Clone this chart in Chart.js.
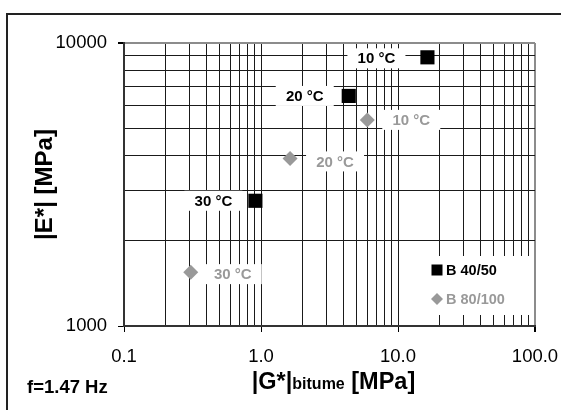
<!DOCTYPE html>
<html>
<head>
<meta charset="utf-8">
<script src="https://cdn.jsdelivr.net/npm/chart.js@4.4.1/dist/chart.umd.min.js"></script>
<style>
  html, body { margin: 0; padding: 0; background: #fff; }
  canvas { display: block; }
</style>
</head>
<body>
<canvas id="modulus-chart" width="561" height="410"></canvas>
<script>
// |E*| mix vs |G*| binder, f = 1.47 Hz
const seriesNames = ['B 40/50', 'B 80/100'];
const tempLabels = ['10 °C', '20 °C', '30 °C'];
const g4050 = [16.4, 4.37, 0.91];
const e4050 = [8900, 6500, 2770];
const g80100 = [5.97, 1.63, 0.307];
const e80100 = [5350, 3910, 1550];
const xTickValues = [0.1, 1, 10, 100];
const xTickLabels = ['0.1', '1.0', '10.0', '100.0'];
const yTickValues = [1000, 10000];
const yTickLabels = ['1000', '10000'];
const freqNote = 'f=1.47 Hz';

// label placement (px from the point), one row per series
const labelShift = [[-51, -44, -42], [44, 45, 42]];
const labelDrop = [[1, 0, 0], [0, 3, 2]];

const FONT = '"Liberation Sans", Arial, sans-serif';
const GREY = '#999999';

// 1,2,...,9 per decade for the grid
function logGrid(lo, hi) {
    const vals = [];
    const d0 = Math.round(Math.log10(lo));
    const d1 = Math.round(Math.log10(hi));
    for (let d = d0; d < d1; d++) {
        for (let k = 1; k < 10; k++) {
            vals.push(Number((k * Math.pow(10, d)).toPrecision(3)));
        }
    }
    vals.push(hi);
    return vals;
}

function toPoints(xs, ys) {
    return xs.map((x, i) => ({ x: x, y: ys[i] }));
}

const annotations = {
    id: 'annotations',
    beforeDraw(chart) {
        const ctx = chart.ctx;
        ctx.save();
        ctx.fillStyle = '#fff';
        ctx.fillRect(0, 0, chart.width, chart.height);
        // outer frame (only top and left visible)
        ctx.strokeStyle = '#222';
        ctx.lineWidth = 2;
        ctx.beginPath();
        ctx.moveTo(7, chart.height);
        ctx.lineTo(7, 14);
        ctx.lineTo(chart.width, 14);
        ctx.stroke();
        ctx.restore();
    },
    afterDatasetsDraw(chart) {
        const ctx = chart.ctx;
        const ca = chart.chartArea;
        ctx.save();
        ctx.font = 'bold 15px ' + FONT;
        ctx.textAlign = 'center';
        ctx.textBaseline = 'middle';
        chart.data.datasets.forEach((ds, si) => {
            const meta = chart.getDatasetMeta(si);
            meta.data.forEach((pt, i) => {
                const cx = pt.x + labelShift[si][i];
                const cy = pt.y + labelDrop[si][i];
                ctx.fillStyle = '#fff';
                ctx.fillRect(cx - 29, cy - 10, 58, 20);
                ctx.fillStyle = ds.labelColor;
                ctx.fillText(tempLabels[i], cx, cy + 1);
            });
        });

        // legend inside the plot
        const lx = ca.right - 123;
        const ly = ca.bottom - 70;
        ctx.fillStyle = '#fff';
        ctx.fillRect(lx, ly, 121, 59);
        ctx.font = 'bold 14.5px ' + FONT;
        ctx.textAlign = 'left';
        chart.data.datasets.forEach((ds, si) => {
            const mx = lx + 25;
            const my = ly + 14 + si * 29;
            ctx.fillStyle = ds.backgroundColor;
            if (ds.pointStyle === 'rect') {
                ctx.fillRect(mx - 5.5, my - 5.5, 11, 11);
            } else {
                ctx.beginPath();
                ctx.moveTo(mx, my - 6);
                ctx.lineTo(mx + 6, my);
                ctx.lineTo(mx, my + 6);
                ctx.lineTo(mx - 6, my);
                ctx.closePath();
                ctx.fill();
            }
            ctx.fillStyle = ds.labelColor;
            ctx.fillText(ds.label, mx + 9, my + 1);
        });
        ctx.restore();
    },
    afterDraw(chart) {
        const ctx = chart.ctx;
        const ca = chart.chartArea;
        ctx.save();
        ctx.fillStyle = '#000';
        ctx.textBaseline = 'alphabetic';
        ctx.textAlign = 'left';

        // x title with the small "bitume" part
        const parts = [
            { t: '|G*|', f: 'bold 23.5px ' + FONT },
            { t: 'bitume', f: 'bold 16px ' + FONT },
            { t: ' [MPa]', f: 'bold 23.5px ' + FONT }
        ];
        let total = 0;
        parts.forEach(p => { ctx.font = p.f; p.w = ctx.measureText(p.t).width; total += p.w; });
        let x = (ca.left + ca.right) / 2 + 4 - total / 2;
        parts.forEach(p => {
            ctx.font = p.f;
            ctx.fillText(p.t, x, 388.5);
            x += p.w;
        });

        ctx.font = 'bold 18.5px ' + FONT;
        ctx.fillText(freqNote, 27, 393);
        ctx.restore();
    }
};

const ctx = document.getElementById('modulus-chart').getContext('2d');
const chart = new Chart(ctx, {
    type: 'scatter',
    data: {
        datasets: [{
            label: seriesNames[0],
            data: toPoints(g4050, e4050),
            pointStyle: 'rect',
            pointRadius: 10,
            pointBorderWidth: 0,
            backgroundColor: '#000',
            borderColor: '#000',
            labelColor: '#000'
        }, {
            label: seriesNames[1],
            data: toPoints(g80100, e80100),
            pointStyle: 'rectRot',
            pointRadius: 7.5,
            pointBorderWidth: 0,
            backgroundColor: GREY,
            borderColor: GREY,
            labelColor: GREY
        }]
    },
    options: {
        responsive: false,
        animation: false,
        events: [],
        layout: { padding: { top: 43, right: 26, left: 0, bottom: 0 } },
        plugins: {
            legend: { display: false },
            tooltip: { enabled: false }
        },
        scales: {
            x: {
                type: 'logarithmic',
                min: 0.1,
                max: 100,
                afterBuildTicks: scale => {
                    scale.ticks = logGrid(0.1, 100).map(v => ({ value: v }));
                },
                afterFit: scale => {
                    scale.height = 84;
                    scale.paddingLeft = 0;
                    scale.paddingRight = 0;
                },
                ticks: {
                    autoSkip: false,
                    maxRotation: 0,
                    minRotation: 0,
                    padding: 14,
                    color: '#000',
                    font: { family: FONT, size: 18.5 },
                    callback: v => {
                        const i = xTickValues.indexOf(v);
                        return i >= 0 ? xTickLabels[i] : '';
                    }
                },
                grid: {
                    color: c => (c.tick && c.tick.value === 100 ? '#8c8c8c' : '#1a1a1a'),
                    lineWidth: c => (c.tick && c.tick.value === 100 ? 2 : 1),
                    tickColor: c => (c.tick && xTickValues.includes(c.tick.value) ? '#000' : 'rgba(0,0,0,0)'),
                    tickLength: 6
                },
                border: { color: '#333', width: 2 }
            },
            y: {
                type: 'logarithmic',
                min: 1000,
                max: 10000,
                afterBuildTicks: scale => {
                    scale.ticks = logGrid(1000, 10000).map(v => ({ value: v }));
                },
                afterFit: scale => {
                    scale.width = 124;
                    scale.paddingTop = 0;
                    scale.paddingBottom = 0;
                },
                ticks: {
                    autoSkip: false,
                    padding: 11,
                    color: '#000',
                    font: { family: FONT, size: 18.5 },
                    callback: v => {
                        const i = yTickValues.indexOf(v);
                        return i >= 0 ? yTickLabels[i] : '';
                    }
                },
                grid: {
                    color: c => (c.tick && c.tick.value === 10000 ? '#8c8c8c' : '#1a1a1a'),
                    lineWidth: c => (c.tick && c.tick.value === 10000 ? 2 : 1),
                    tickColor: c => (c.tick && yTickValues.includes(c.tick.value) ? '#000' : 'rgba(0,0,0,0)'),
                    tickLength: 6
                },
                border: { color: '#333', width: 2 },
                title: {
                    display: true,
                    text: '|E*| [MPa]',
                    color: '#000',
                    font: { family: FONT, size: 24, weight: 'bold' },
                    padding: { top: 31, bottom: 0 }
                }
            }
        }
    },
    plugins: [annotations]
});
</script>
</body>
</html>
